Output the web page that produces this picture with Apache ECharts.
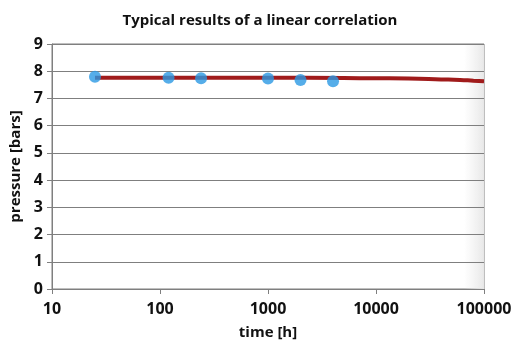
<!DOCTYPE html>
<html><head><meta charset="utf-8">
<script src="https://cdn.jsdelivr.net/npm/echarts@6/dist/echarts.min.js"></script>
<style>html,body{margin:0;padding:0;background:#fff}#c{width:520px;height:349px}</style>
</head><body><div id="c"></div>
<script>
var measTime = [25, 120, 240, 1000, 2000, 4000];
var measPressure = [7.80, 7.76, 7.74, 7.73, 7.68, 7.63];
var fitTime = [25, 1000, 5000, 10000, 20000, 40000, 60000, 80000, 100000];
var fitPressure = [7.76, 7.76, 7.75, 7.74, 7.73, 7.70, 7.68, 7.65, 7.63];
var yTicks = [0,1,2,3,4,5,6,7,8,9];

var font = '"Open Sans", "Noto Sans", sans-serif';
var chart = echarts.init(document.getElementById('c'));
chart.setOption({
  animation: false,
  title: {text: 'Typical results of a linear correlation', left: 'center', top: 8,
    textStyle: {fontFamily: font, fontSize: 15, fontWeight: 'bold', color: '#111'}},
  grid: {left: 52, right: 36, top: 44, bottom: 60, outerBoundsMode: 'none', containLabel: false,
    show: true, borderColor: '#7f7f7f', borderWidth: 1, backgroundColor: 'transparent'},
  graphic: [{type: 'rect', z: 0, shape: {x: 464, y: 45, width: 20, height: 244},
    style: {fill: new echarts.graphic.LinearGradient(0,0,1,0,[{offset:0,color:'rgba(235,235,235,0)'},{offset:1,color:'rgba(232,232,232,1)'}])}}],
  xAxis: {type: 'log', logBase: 10, min: 10, max: 100000,
    name: 'time [h]', nameLocation: 'middle', nameGap: 36,
    nameTextStyle: {fontFamily: font, fontSize: 15, fontWeight: 'bold', color: '#111'},
    axisLine: {show: true, lineStyle: {color: '#7f7f7f'}},
    axisTick: {show: true, length: 5, lineStyle: {color: '#7f7f7f'}},
    minorTick: {show: false}, splitLine: {show: false},
    axisLabel: {fontFamily: font, fontSize: 16, fontWeight: 'bold', color: '#111', margin: 12,
      formatter: function(v){return String(Math.round(v));}}},
  yAxis: {type: 'value', min: yTicks[0], max: yTicks[yTicks.length-1], interval: 1,
    name: 'pressure [bars]', nameLocation: 'middle', nameGap: 28, nameRotate: 90,
    nameTextStyle: {fontFamily: font, fontSize: 15, fontWeight: 'bold', color: '#111'},
    axisLine: {show: true, lineStyle: {color: '#7f7f7f'}},
    axisTick: {show: true, length: 5, lineStyle: {color: '#7f7f7f'}},
    splitLine: {show: true, lineStyle: {color: '#7f7f7f', width: 1}},
    axisLabel: {fontFamily: font, fontSize: 16, fontWeight: 'bold', color: '#111', margin: 9}},
  series: [
    {type: 'line', data: fitTime.map(function(t,i){return [t, fitPressure[i]];}), smooth: true,
      showSymbol: false, lineStyle: {color: '#a01b1b', width: 4}, z: 2},
    {type: 'scatter', data: measTime.map(function(t,i){return [t, measPressure[i]];}),
      symbolSize: 12, itemStyle: {color: '#2b98e3'}, z: 3}
  ]
});
</script></body></html>
